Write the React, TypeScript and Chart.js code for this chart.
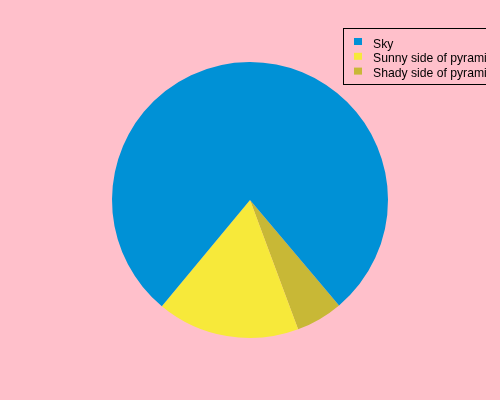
import React, { useEffect, useRef } from "react";
import { Chart, registerables } from "chart.js";

Chart.register(...registerables);

const categories = ["Sky", "Sunny side of pyramid", "Shady side of pyramid"];
const values = [77.8, 16.7, 5.5];
const colors = ["#0091D6", "#F7E93A", "#C8B836"];

const legendPlugin = {
  id: "boxLegend",
  afterDraw(chart: any) {
    const ctx = chart.ctx;
    ctx.save();
    ctx.beginPath();
    ctx.rect(0, 0, 486, 400);
    ctx.clip();
    ctx.strokeStyle = "#000";
    ctx.lineWidth = 1;
    ctx.strokeRect(343.5, 28.5, 150, 56);
    ctx.font = "12.2px 'Liberation Sans', Arial, sans-serif";
    ctx.textBaseline = "alphabetic";
    categories.forEach((c, i) => {
      ctx.fillStyle = colors[i];
      ctx.fillRect(354, 38 + i * 14.8, 8, 7);
      ctx.fillStyle = "#000";
      ctx.fillText(c, 373, 48 + i * 14.4);
    });
    ctx.restore();
  },
};

export default function App() {
  const ref = useRef<HTMLCanvasElement>(null);
  useEffect(() => {
    document.body.style.margin = "0";
    document.body.style.background = "#FFC0CB";
    // draw clockwise starting at the shady/sky boundary so the layout matches
    const order = [2, 1, 0];
    const chart = new Chart(ref.current!, {
      type: "pie",
      data: {
        labels: order.map((i) => categories[i]),
        datasets: [
          {
            data: order.map((i) => values[i]),
            backgroundColor: order.map((i) => colors[i]),
            borderWidth: 0,
          },
        ],
      },
      options: {
        animation: false,
        responsive: false,
        rotation: 139.8,
        layout: { padding: { top: 62, bottom: 62, left: 0, right: 0 } },
        plugins: { legend: { display: false }, tooltip: { enabled: false } },
      },
      plugins: [legendPlugin],
    });
    return () => chart.destroy();
  }, []);
  return (
    <div style={{ width: 500, height: 400, background: "#FFC0CB" }}>
      <canvas ref={ref} width={500} height={400} />
    </div>
  );
}
